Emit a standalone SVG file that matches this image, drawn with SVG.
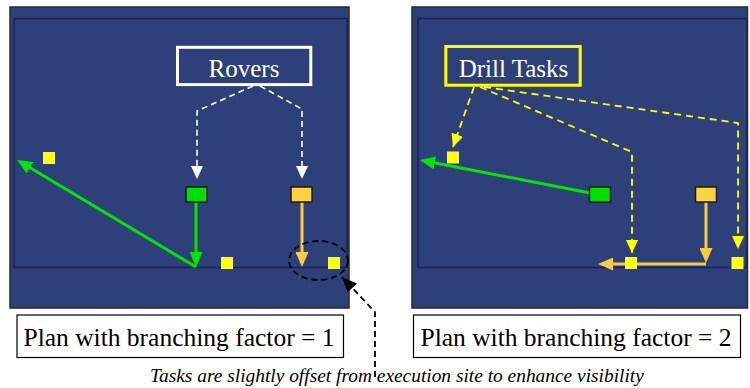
<svg xmlns="http://www.w3.org/2000/svg" width="750" height="388" viewBox="0 0 750 388">
<defs>
<style>
.panel{fill:#2E4079;stroke:#2a2a2a;stroke-width:1.5}
.inner{fill:none;stroke:#1B2250;stroke-width:1.5}
.task{fill:#FFFF00;stroke:#F4F46A;stroke-width:1}
.rover-g{fill:#00E000;stroke:#1a1a1a;stroke-width:1.5}
.rover-o{fill:#FFD23F;stroke:#1a1a1a;stroke-width:1.5}
.gline{fill:none;stroke:#00E600;stroke-width:3}
.oline{fill:none;stroke:#FFC845;stroke-width:3}
.wdash{fill:none;stroke:#FFFFFF;stroke-width:1.6;stroke-dasharray:6 4}
.ydash{fill:none;stroke:#FFFF00;stroke-width:1.8;stroke-dasharray:7 5}
.kdash{fill:none;stroke:#000;stroke-width:1.8;stroke-dasharray:6 4}
.lbl{font-size:25px;text-anchor:middle}
.cap{font-size:25.5px;text-anchor:middle;fill:#000}
.note{font-size:19.4px;font-style:italic;fill:#000}
</style>
<marker id="ag" markerUnits="userSpaceOnUse" markerWidth="15" markerHeight="13" refX="11" refY="6.5" orient="auto"><path d="M0,0 L15,6.5 L0,13 z" fill="#00E600"/></marker>
<marker id="ao" markerUnits="userSpaceOnUse" markerWidth="15" markerHeight="13" refX="11" refY="6.5" orient="auto"><path d="M0,0 L15,6.5 L0,13 z" fill="#FFC845"/></marker>
<marker id="aw" markerUnits="userSpaceOnUse" markerWidth="13" markerHeight="12" refX="13" refY="6" orient="auto"><path d="M0,0 L13,6 L0,12 z" fill="#FFFFFF"/></marker>
<marker id="ay" markerUnits="userSpaceOnUse" markerWidth="13" markerHeight="12" refX="13" refY="6" orient="auto"><path d="M0,0 L13,6 L0,12 z" fill="#FFFF00"/></marker>
<marker id="ak" markerUnits="userSpaceOnUse" markerWidth="15" markerHeight="13" refX="15" refY="6.5" orient="auto"><path d="M0,0 L15,6.5 L0,13 z" fill="#000"/></marker>
</defs>
<rect width="750" height="388" fill="#FFFFFF"/>

<g id="panel1">
<rect class="panel" x="10" y="7" width="339" height="301"/>
<rect class="inner" x="14" y="18.5" width="333" height="249"/>
</g>
<g id="panel2">
<rect class="panel" x="412" y="7" width="335.5" height="301"/>
<rect class="inner" x="418" y="18.5" width="329" height="249"/>
</g>

<g id="connectors">
<path class="wdash" d="M253,86 L197,111 L197,179" marker-end="url(#aw)"/>
<path class="wdash" d="M260,86 L302,109 L302,179" marker-end="url(#aw)"/>
<path class="gline" d="M196,202 L196,263" marker-end="url(#ag)"/>
<path class="gline" d="M196,267 L20.5,162" marker-end="url(#ag)"/>
<path class="oline" d="M302,202 L302,263" marker-end="url(#ao)"/>
<path class="ydash" d="M474,87 L453,147" marker-end="url(#ay)"/>
<path class="ydash" d="M480,87 L632,152 L632,253" marker-end="url(#ay)"/>
<path class="ydash" d="M484,87 L738,123 L738,249" marker-end="url(#ay)"/>
<path class="gline" d="M590,193 L424,160.8" marker-end="url(#ag)"/>
<path class="oline" d="M706,202 L706,259" marker-end="url(#ao)"/>
<path class="oline" d="M706,264 L602,264" marker-end="url(#ao)"/>
<ellipse cx="318.5" cy="260.5" rx="29.5" ry="19.5" class="kdash"/>
<path class="kdash" d="M375,377 L375,312 L342,277" marker-end="url(#ak)"/>
</g>

<g id="rovers-label" font-family="'Liberation Serif', 'DejaVu Serif', 'Times New Roman', serif">
<rect x="177.5" y="47.3" width="133.3" height="37.3" fill="none" stroke="#FFFFFF" stroke-width="3"/>
<text class="lbl" x="244" y="77" fill="#FFFFFF">Rovers</text>
</g>
<g id="drill-label" font-family="'Liberation Serif', 'DejaVu Serif', 'Times New Roman', serif">
<rect x="445.8" y="46.5" width="134.4" height="38.7" fill="none" stroke="#FFFF00" stroke-width="3"/>
<text class="lbl" x="513.5" y="77" fill="#FFFFFF">Drill Tasks</text>
</g>

<g id="rover-green-1"><rect class="rover-g" x="186" y="187" width="21" height="15"/></g>
<g id="rover-orange-1"><rect class="rover-o" x="291" y="187" width="21" height="15"/></g>
<g id="task-1a"><rect class="task" x="43.5" y="152.5" width="11" height="11"/></g>
<g id="task-1b"><rect class="task" x="221.5" y="257.5" width="11" height="11"/></g>
<g id="task-1c"><rect class="task" x="328.5" y="257.5" width="11" height="11"/></g>

<g id="rover-green-2"><rect class="rover-g" x="589.5" y="187" width="21" height="15"/></g>
<g id="rover-orange-2"><rect class="rover-o" x="695.5" y="187" width="21" height="15"/></g>
<g id="task-2a"><rect class="task" x="447.5" y="152" width="11" height="11"/></g>
<g id="task-2b"><rect class="task" x="625.5" y="257.5" width="11" height="11"/></g>
<g id="task-2c"><rect class="task" x="732" y="257.5" width="11" height="11"/></g>

<g id="caption1" font-family="'Liberation Serif', 'DejaVu Serif', 'Times New Roman', serif">
<rect x="17" y="315" width="326.5" height="42.5" fill="#FFFFFF" stroke="#000" stroke-width="1.2"/>
<text class="cap" x="179" y="346">Plan with branching factor = 1</text>
</g>
<g id="caption2" font-family="'Liberation Serif', 'DejaVu Serif', 'Times New Roman', serif">
<rect x="413.5" y="315" width="327" height="42.5" fill="#FFFFFF" stroke="#000" stroke-width="1.2"/>
<text class="cap" x="576" y="346">Plan with branching factor = 2</text>
</g>
<g id="note" font-family="'Liberation Serif', 'DejaVu Serif', 'Times New Roman', serif">
<text class="note" x="150" y="381.5">Tasks are slightly offset from execution site to enhance visibility</text>
</g>
</svg>
